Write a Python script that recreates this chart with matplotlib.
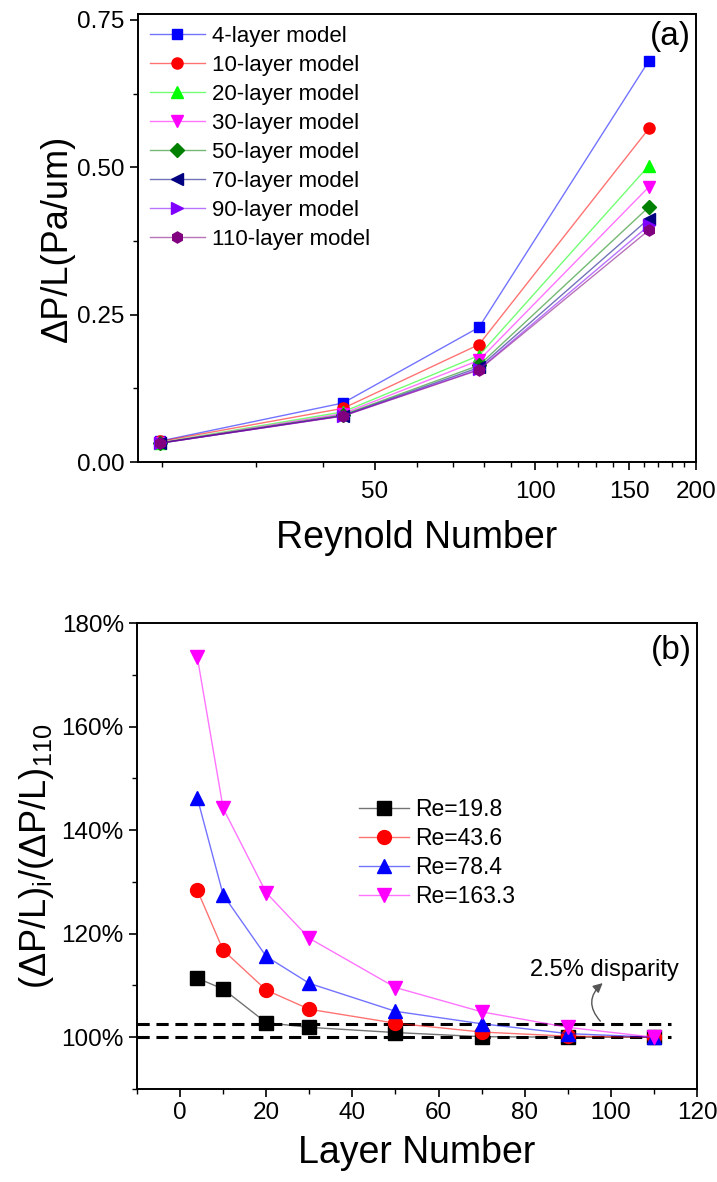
import numpy as np
import matplotlib
matplotlib.use("Agg")
import matplotlib.pyplot as plt
import matplotlib.colors as mcolors
from matplotlib.ticker import FixedLocator, NullFormatter, FormatStrFormatter, FuncFormatter

plt.rcParams['font.family'] = ['Liberation Sans', 'DejaVu Sans']
plt.rcParams['mathtext.default'] = 'regular'

# ---- panel (a): pressure drop per length vs Reynolds number
reynolds = [19.8, 43.6, 78.4, 163.3]
models = ['4-layer model', '10-layer model', '20-layer model', '30-layer model',
          '50-layer model', '70-layer model', '90-layer model', '110-layer model']
dpl_4 = [0.0356, 0.1002, 0.2285, 0.681]
dpl_10 = [0.0350, 0.0911, 0.1993, 0.566]
dpl_20 = [0.0329, 0.0851, 0.1807, 0.503]
dpl_30 = [0.0326, 0.0822, 0.1726, 0.467]
dpl_50 = [0.0323, 0.0801, 0.1641, 0.433]
dpl_70 = [0.0320, 0.0788, 0.1604, 0.413]
dpl_90 = [0.0320, 0.0782, 0.1574, 0.4015]
dpl_110 = [0.0320, 0.0780, 0.1563, 0.3936]

# ---- panel (b): ratio to 110-layer model (%) vs layer number
layers = [4, 10, 20, 30, 50, 70, 90, 110]
re_labels = ['Re=19.8', 'Re=43.6', 'Re=78.4', 'Re=163.3']
ratio_19 = [111.4, 109.3, 102.8, 101.9, 100.9, 100.1, 100.0, 100.0]
ratio_43 = [128.4, 116.8, 109.1, 105.4, 102.7, 101.0, 100.2, 100.0]
ratio_78 = [146.2, 127.5, 115.6, 110.4, 105.0, 102.6, 100.7, 100.0]
ratio_163 = [173.4, 144.2, 127.9, 119.1, 109.6, 104.9, 101.9, 100.0]
disparity = [100.0, 102.5]

fig = plt.figure(figsize=(7.17, 11.82), dpi=100)
ax1 = fig.add_axes([0.1925, 0.6091, 0.7782, 0.3790])
ax2 = fig.add_axes([0.1911, 0.0787, 0.7810, 0.3942])

def styled(c, a=0.55):
    return dict(color=mcolors.to_rgba(c, a), markerfacecolor=c, markeredgecolor=c, lw=1.0)

top_colors = ['#0000FF', '#FF0000', '#00FF00', '#FF00FF', '#008000', '#000080', '#8000FF', '#800080']
top_markers = ['s', 'o', '^', 'v', 'D', '<', '>', 'h']
top_sizes = [7, 8, 8, 8, 7, 8, 8, 8]
top_series = [dpl_4, dpl_10, dpl_20, dpl_30, dpl_50, dpl_70, dpl_90, dpl_110]
for ys, lab, c, m, ms in zip(top_series, models, top_colors, top_markers, top_sizes):
    ax1.plot(reynolds, ys, marker=m, ms=ms, label=lab, **styled(c))

ax1.set_xscale('log')
ax1.set_xlim(18, 200)
ax1.set_ylim(0, 0.76)
ax1.xaxis.set_major_locator(FixedLocator([50, 100, 150, 200]))
ax1.xaxis.set_major_formatter(FuncFormatter(lambda v, p: f"{v:g}"))
ax1.xaxis.set_minor_locator(FixedLocator([20, 30, 40, 60, 70, 80, 90, 110, 120, 130, 140,
                                          160, 170, 180, 190]))
ax1.xaxis.set_minor_formatter(NullFormatter())
ax1.yaxis.set_major_locator(FixedLocator([0, 0.25, 0.5, 0.75]))
ax1.yaxis.set_minor_locator(FixedLocator([0.125, 0.375, 0.625]))
ax1.yaxis.set_major_formatter(FormatStrFormatter('%.2f'))
ax1.set_xlabel('Reynold Number', fontsize=27, labelpad=12)
ax1.set_ylabel('ΔP/L(Pa/um)', fontsize=26, labelpad=2)
ax1.legend(loc='upper left', frameon=False, fontsize=16, handlelength=2.5,
           labelspacing=0.36, handletextpad=0.3, borderaxespad=0.0,
           bbox_to_anchor=(0.005, 0.993))
ax1.text(0.99, 0.985, '(a)', transform=ax1.transAxes, ha='right', va='top', fontsize=24)

bot_colors = ['#000000', '#FF0000', '#0000FF', '#FF00FF']
bot_markers = ['s', 'o', '^', 'v']
bot_series = [ratio_19, ratio_43, ratio_78, ratio_163]
for ys, lab, c, m in zip(bot_series, re_labels, bot_colors, bot_markers):
    ax2.plot(layers, ys, marker=m, ms=10, label=lab, **styled(c))

for d in disparity:
    ax2.plot([-10, 114], [d, d], color='black', lw=2.2, ls=(0, (4, 2.2)), zorder=1)

ax2.annotate('', xy=(98.6, 110.8), xytext=(98.0, 102.7),
             arrowprops=dict(arrowstyle='-|>', color='#555555', lw=1.0,
                             connectionstyle='arc3,rad=-0.55', mutation_scale=14))
ax2.text(98.5, 113.0, '2.5% disparity', ha='center', va='center', fontsize=17)

ax2.set_xlim(-10, 120)
ax2.set_ylim(90, 180)
ax2.xaxis.set_major_locator(FixedLocator(np.arange(0, 121, 20)))
ax2.xaxis.set_minor_locator(FixedLocator(np.arange(-10, 120, 20)))
ax2.yaxis.set_major_locator(FixedLocator(np.arange(100, 181, 20)))
ax2.yaxis.set_minor_locator(FixedLocator(np.arange(90, 180, 20)))
ax2.yaxis.set_major_formatter(FuncFormatter(lambda v, p: f"{v:.0f}%"))
ax2.set_xlabel('Layer Number', fontsize=27, labelpad=8)
ax2.set_ylabel('(ΔP/L)$_i$/(ΔP/L)$_{110}$', fontsize=26, labelpad=4)
ax2.legend(loc='upper left', frameon=False, fontsize=16.5, handlelength=2.2,
           labelspacing=0.27, handletextpad=0.25, borderaxespad=0.0,
           bbox_to_anchor=(0.38, 0.645))
ax2.text(0.99, 0.975, '(b)', transform=ax2.transAxes, ha='right', va='top', fontsize=24)

for ax in (ax1, ax2):
    for s in ax.spines.values():
        s.set_linewidth(1.4)
    ax.tick_params(which='major', direction='out', length=6, width=1.2, labelsize=17.5)
    ax.tick_params(which='minor', direction='out', length=3.5, width=1.0)
    ax.tick_params(top=False, right=False)
ax1.tick_params(axis='x', which='major', pad=8)

fig.savefig('out.png', dpi=100)
